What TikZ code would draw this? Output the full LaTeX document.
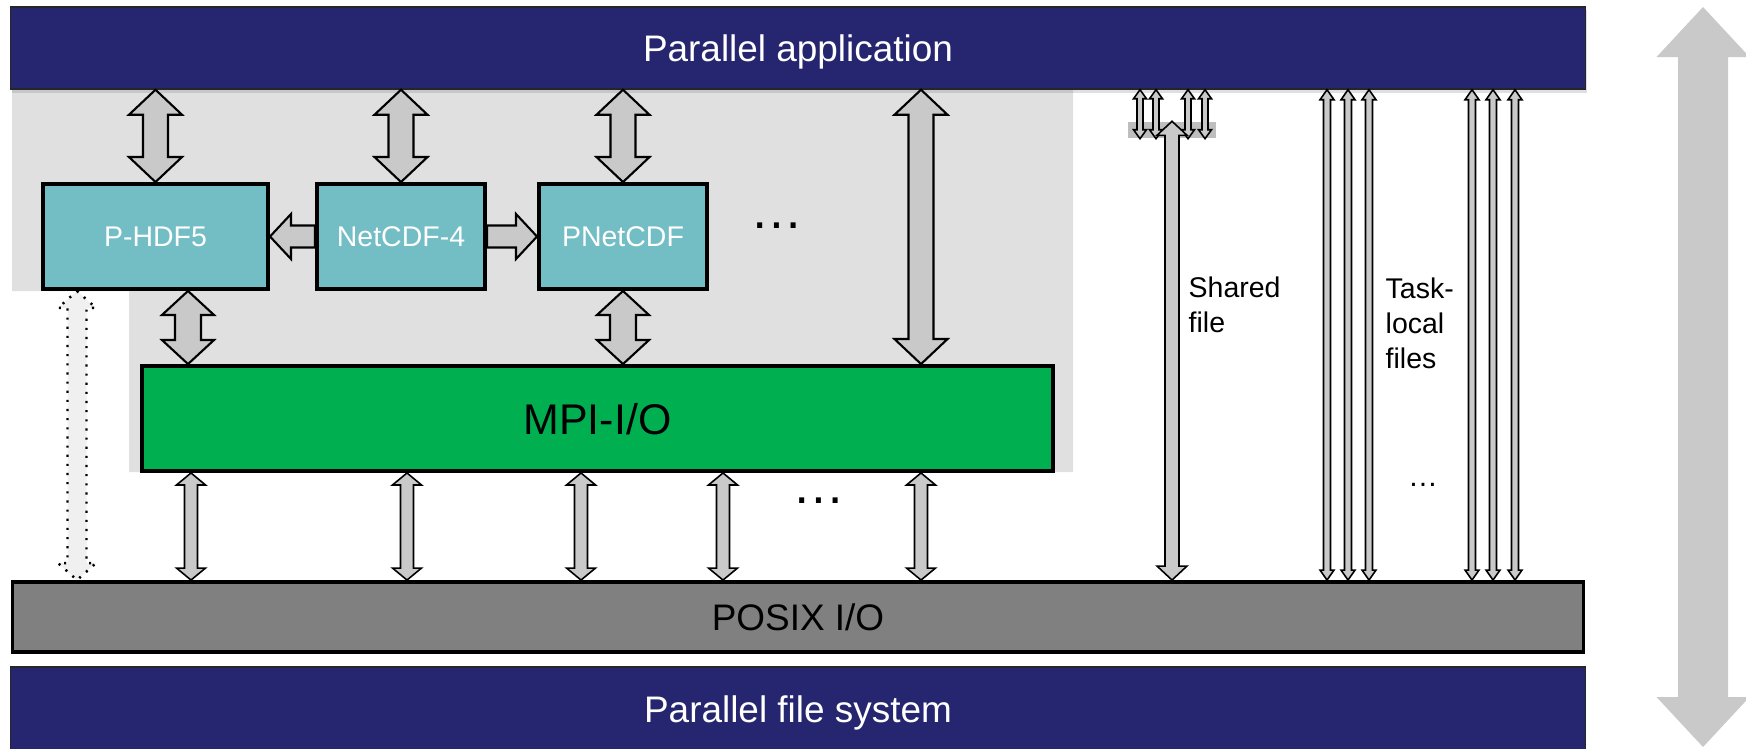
\documentclass[tikz,border=0pt]{standalone}
\usepackage{fontspec}
\setmainfont{Liberation Sans}
\usepackage{tikz}
\usetikzlibrary{positioning,calc,shadows}
\usepackage{xcolor}
\definecolor{appblue}{HTML}{262670}
\definecolor{libteal}{HTML}{73BEC5}
\definecolor{mpigreen}{HTML}{00AF50}
\definecolor{posixgray}{HTML}{808080}
\definecolor{zonegray}{HTML}{E0E0E0}
\definecolor{arrowgray}{HTML}{C9C9C9}
\definecolor{hubgray}{HTML}{BEBEBE}

% two-headed vertical block arrow: [style]{x from}{upper}{lower}{shaft/2}{head/2}{head length}
\newcommand\vblock[7][]{%
  \coordinate (vbx) at (#2);
  \coordinate (vbt) at (vbx |- #3);
  \coordinate (vbb) at (vbx |- #4);
  \draw[blockarrow,#1] (vbt) -- ++(#6,#7) -- ++(#5-#6,0) -- ($(vbb)+(#5,-#7)$) -- ++(#6-#5,0)
    -- (vbb) -- ++(-#6,-#7) -- ++(#6-#5,0) -- ($(vbt)+(-#5,#7)$) -- ++(#5-#6,0) -- cycle;
}

\begin{document}
\begin{tikzpicture}[x=0.01cm, y=-0.01cm,
  layer/.style={rectangle, draw=black!85, line width=0.4pt, fill=appblue, text=white,
                minimum width=15.74cm, text depth=0pt, font=\fontsize{10.5}{12}\selectfont},
  lib/.style={rectangle, draw=black, line width=1.1pt, fill=libteal, text=white, text depth=0pt,
              minimum width=1.68cm, minimum height=1.05cm, font=\fontsize{8.1}{10}\selectfont},
  blockarrow/.style={draw=black, line width=0.6pt, fill=arrowgray, line join=miter},
  thinarrow/.style={blockarrow, line width=0.45pt},
  note/.style={align=left, anchor=west, inner sep=0pt, font=\fontsize{8.1}{10}\selectfont},
  ellip/.style={inner sep=0pt, anchor=base, font=\fontsize{15}{15}\selectfont},
]
  \useasboundingbox (0,0) rectangle (1746,748);

  % grey zone behind the libraries
  \fill[zonegray] (12,89) -- (1073,89) -- (1073,472) -- (129,472) -- (129,291) -- (12,291) -- cycle;

  \node[layer, minimum height=0.82cm, drop shadow={opacity=0.25, shadow xshift=0.4pt, shadow yshift=-1pt}]
    (app) at (798,48) {Parallel application};
  \node[layer, minimum height=0.85cm] (pfs) at (798,709.5) {Parallel file system};
  \node[layer, fill=posixgray, text=black, draw=black, line width=1.1pt,
        minimum width=15.70cm, minimum height=0.70cm] (posix) at (798,617) {POSIX I/O};

  \node[lib, minimum width=2.25cm] (hdf) at (155.5,236.5) {P-HDF5};
  \node[lib, right=0.45cm of hdf] (netcdf) {NetCDF-4};
  \node[lib, right=0.5cm of netcdf] (pnetcdf) {PNetCDF};
  \node[lib, fill=mpigreen, text=black, minimum width=9.11cm,
        font=\fontsize{12.2}{14}\selectfont] (mpi) at (597.5,418.5) {MPI-I/O};

  \node[ellip] (libmore) at (777,228) {…};
  \node[ellip] (iomore) at (819,503) {…};

  % libraries and MPI-I/O
  \foreach \b in {hdf,netcdf,pnetcdf} {\vblock{\b}{app.south}{\b.north}{12.5}{26.5}{25}}
  \vblock{921,0}{app.south}{mpi.north}{12.5}{26.5}{25}
  \vblock{188,0}{hdf.south}{mpi.north}{13}{26}{24}
  \vblock{pnetcdf}{pnetcdf.south}{mpi.north}{13}{26}{24}
  \draw[blockarrow] (hdf.east) -- ++(21,-22.5) -- ++(0,11.5) -- ($(netcdf.west)+(0,-11)$)
    -- ($(netcdf.west)+(0,11)$) -- ($(hdf.east)+(21,11)$) -- ++(0,11.5) -- cycle;
  \draw[blockarrow] (pnetcdf.west) -- ++(-21,-22.5) -- ++(0,11.5) -- ($(netcdf.east)+(0,-11)$)
    -- ($(netcdf.east)+(0,11)$) -- ($(pnetcdf.west)+(-21,11)$) -- ++(0,11.5) -- cycle;
  \foreach \x in {191,407,581,723,921} {\vblock[thinarrow]{\x,0}{mpi.south}{posix.north}{6.5}{14.5}{12}}
  \vblock[dotted, line width=0.7pt, fill=gray!12]{77,0}{hdf.south}{posix.north}{9.5}{19}{17}

  % shared file
  \node[fill=hubgray, inner sep=0pt, minimum width=0.88cm, minimum height=0.16cm] (hub) at (1172,130) {};
  \foreach \x in {1140,1156,1188,1205} {\vblock[thinarrow]{\x,0}{app.south}{hub.south}{3}{6.5}{9}}
  \vblock[thinarrow]{hub}{hub.north}{posix.north}{7}{15}{14}
  \node[note] (shared) at (1188,305) {Shared\\file};

  % task-local files
  \foreach \x in {1327,1348,1369,1472,1493,1515} {\vblock[thinarrow]{\x,0}{app.south}{posix.north}{3.5}{7}{10}}
  \node[note] (tasks) at (1385,323) {Task-\\local\\files};
  \node[inner sep=0pt, anchor=base, font=\fontsize{8.5}{10}\selectfont] (taskmore) at (1423,486) {…};

  % side arrow
  \coordinate (sidetop) at (1703,7);
  \coordinate (sidebottom) at (1703,747);
  \vblock[draw=none]{sidetop}{sidetop}{sidebottom}{25}{46.5}{50}
\end{tikzpicture}
\end{document}
